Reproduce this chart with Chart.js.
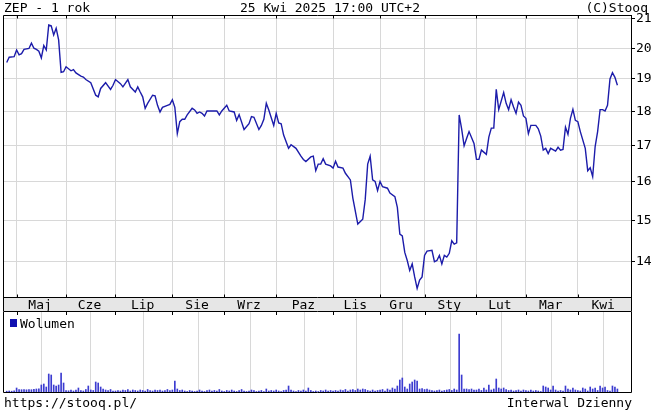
<!DOCTYPE html>
<html>
<head>
<meta charset="utf-8">
<script src="https://cdn.jsdelivr.net/npm/chart.js"></script>
<style>
  body { margin: 0; background: #fff; }
  #wrap { position: relative; width: 654px; height: 412px; overflow: hidden; font: 13px "DejaVu Sans Mono", monospace; color: #000; }
  .t { position: absolute; white-space: nowrap; line-height: 15px; }
  canvas { position: absolute; left: 0; }
</style>
</head>
<body>
<div id="wrap">
  <canvas id="priceChart" width="654" height="312" style="top:0"></canvas>
  <canvas id="volChart" width="654" height="100" style="top:312px"></canvas>
  <div class="t" style="left:4px;top:0">ZEP - 1 rok</div>
  <div class="t" style="left:240px;top:0">25 Kwi 2025 17:00 UTC+2</div>
  <div class="t" style="right:6px;top:0">(C)Stooq</div>
  <div style="position:absolute;left:10px;top:319px;width:7px;height:8px;background:#1010b0"></div>
  <div class="t" style="left:20px;top:316px">Wolumen</div>
  <div class="t" style="left:4px;top:395px">https://stooq.pl/</div>
  <div class="t" style="right:22px;top:395px">Interwal Dzienny</div>
</div>
<script>
// trading day index 0 = 25 Apr 2024, 247 = 25 Apr 2025
const months = ['Maj', 'Cze', 'Lip', 'Sie', 'Wrz', 'Paz', 'Lis', 'Gru', 'Sty', 'Lut', 'Mar', 'Kwi'];
const monthStart = [4, 24, 44, 67, 88, 109, 132, 151, 169, 190, 210, 231];
const priceTicks = [14, 15, 16, 17, 18, 19, 20, 21];

const priceDays = [
  0, 1, 3,
  4, 5, 6, 7, 9, 10, 11, 12, 13, 14, 15, 16, 17, 18, 19, 20, 21, 22, 23,
  24, 26, 27, 28, 30, 31, 32, 34, 36, 37, 38, 40, 42, 43,
  44, 46, 47, 49, 50, 52, 53, 54, 55, 56, 57, 59, 60, 61, 62, 63, 65, 66,
  67, 68, 69, 70, 71, 72, 73, 75, 76, 77, 78, 79, 80, 81, 83, 85, 86, 87,
  89, 90, 92, 93, 94, 96, 98, 99, 100, 102, 103, 104, 105, 106, 108,
  109, 110, 111, 112, 114, 115, 117, 119, 120, 121, 123, 124, 125, 126, 127, 128, 129, 131,
  132, 133, 134, 136, 137, 139, 140, 142, 144, 145, 146, 147, 148, 149, 150,
  151, 152, 154, 155, 157, 158, 159, 160, 161, 162, 163, 164, 165, 166, 167, 168,
  169, 170, 172, 173, 174, 175, 176, 177, 178, 179, 180, 181, 182, 183, 184, 185, 186, 187, 189,
  190, 191, 192, 194, 195, 196, 197, 198, 199, 201, 202, 203, 204, 205, 206, 207, 208, 209,
  210, 211, 212, 214, 215, 216, 217, 218, 219, 220, 222, 223, 224, 225, 226, 227, 228, 229, 230,
  231, 232, 234, 235, 236, 237, 238, 239, 240, 241, 242, 243, 244, 245, 246, 247
];
const priceValues = [
  19.53, 19.70, 19.72,
  19.94, 19.78, 19.82, 19.96, 19.99, 20.17, 20.00, 19.96, 19.90, 19.68, 20.09, 19.94, 20.79, 20.76, 20.45, 20.68, 20.28, 19.21, 19.23,
  19.39, 19.26, 19.30, 19.19, 19.09, 19.06, 18.98, 18.88, 18.49, 18.44, 18.70, 18.88, 18.67, 18.80,
  18.98, 18.85, 18.75, 18.98, 18.75, 18.59, 18.75, 18.59, 18.44, 18.09, 18.24, 18.49, 18.47, 18.18, 17.98, 18.12, 18.18, 18.21,
  18.35, 18.12, 17.34, 17.69, 17.76, 17.76, 17.89, 18.09, 18.04, 17.94, 17.98, 17.94, 17.86, 18.01, 18.01, 18.01, 17.89, 18.01,
  18.18, 18.01, 17.98, 17.73, 17.90, 17.46, 17.63, 17.84, 17.82, 17.46, 17.58, 17.76, 18.24, 18.04, 17.58,
  17.94, 17.65, 17.63, 17.30, 16.92, 17.02, 16.92, 16.70, 16.61, 16.55, 16.68, 16.70, 16.30, 16.48, 16.48, 16.63, 16.48, 16.43,
  16.37, 16.56, 16.40, 16.37, 16.23, 16.05, 15.57, 14.91, 15.03, 15.53, 16.48, 16.70, 16.05, 16.01, 15.77,
  16.01, 15.87, 15.83, 15.70, 15.61, 15.33, 14.66, 14.62, 14.22, 14.03, 13.80, 13.95, 13.65, 13.39, 13.58, 13.65,
  14.15, 14.25, 14.27, 14.00, 14.03, 14.15, 13.95, 14.15, 14.11, 14.20, 14.50, 14.42, 14.45, 17.89, 17.48, 16.99, 17.20, 17.40, 17.06,
  16.61, 16.61, 16.87, 16.75, 17.24, 17.50, 17.50, 18.67, 18.05, 18.57, 18.24, 18.05, 18.35, 18.13, 17.94, 18.28, 18.18, 17.86,
  17.79, 17.34, 17.58, 17.58, 17.48, 17.27, 16.87, 16.92, 16.77, 16.92, 16.84, 16.95, 16.87, 16.89, 17.53, 17.32, 17.79, 18.06, 17.73,
  17.69, 17.40, 16.92, 16.30, 16.38, 16.14, 16.97, 17.40, 18.05, 18.05, 18.01, 18.18, 19.00, 19.20, 19.05, 18.80
];

// daily volume, one value per trading day
const volumes = [
  0.8, 1, 0.8, 1.2,
  4, 2.5, 2.3, 2.4, 2.2, 2.5, 2.3, 2.6, 3, 3.2, 7, 8, 5, 18, 17, 7, 6, 7, 19, 9,
  1.5, 1.2, 2, 1, 2, 4, 1.5, 1, 2.5, 6, 2, 1.5, 10, 9, 5, 3, 2, 1.5, 2.5, 1,
  1, 1.5, 1, 2, 1.5, 2.5, 1, 2, 1.5, 1, 2, 1.5, 1, 2.5, 1.5, 1, 2, 1.5, 2, 1, 1.5, 2.5, 1.5,
  2, 11, 3, 1.5, 2, 1, 0.5, 1.5, 1, 0.5, 1, 2, 1, 0.5, 1.5, 2, 1, 1.5, 1, 2.5, 1,
  0.5, 1.5, 1, 2, 1, 0.5, 1.5, 2.5, 1, 0.5, 1, 2, 1.5, 0.5, 1, 1.5, 0.5, 3, 1, 1.5, 1,
  2, 1, 0.5, 1.5, 2, 6, 2, 1, 0.5, 1.5, 1, 2, 1, 4, 1.5, 0.5, 1, 0.5, 1.5, 1, 2, 1, 1.5,
  1, 1.5, 1, 2, 1.5, 2.5, 1, 2, 2.5, 1.5, 3, 2, 3, 2.5, 1.5, 1, 2, 1, 1.5,
  2, 2.5, 1, 3, 2, 4, 3, 6, 12, 14, 5, 3, 8, 10, 12, 11, 3, 3.5,
  2.5, 3, 2, 1.5, 1, 1.5, 2, 1, 1.5, 2, 2.5, 1.5, 3, 2, 58, 17, 3, 3, 2.5, 3, 2,
  2, 3, 1.5, 4, 2, 7, 2, 3, 13, 4, 3, 4, 2.5, 1.5, 2, 1, 1.5, 2, 1, 2,
  1.5, 1, 2, 1, 1.5, 1, 0.5, 6, 5, 4, 2, 6, 2, 1, 1.5, 1, 6, 3, 2, 4, 2,
  1.5, 1, 4, 3, 1, 5, 3, 4, 1.5, 6, 4, 5, 1.5, 1, 6, 5, 3
];

const xMin = -1.5, xMax = 252.5;
const labelAt = months.map((m, k) => ((k < months.length - 1 ? monthStart[k + 1] : xMax) + monthStart[k]) / 2 - 0.5);
const mono = { family: 'DejaVu Sans Mono', size: 13 };
const gridGray = '#d8d8d8';

const priceFrame = {
  id: 'priceFrame',
  beforeDraw(chart) {
    const { ctx, chartArea: a } = chart;
    ctx.save();
    ctx.fillStyle = '#e6e6e6';
    ctx.fillRect(a.left, a.bottom, a.right - a.left, 14);
    ctx.restore();
  },
  afterDraw(chart) {
    const { ctx, chartArea: a, scales } = chart;
    const L = Math.round(a.left) + 0.5, R = Math.round(a.right) + 0.5;
    const T = Math.round(a.top) + 0.5, B = Math.round(a.bottom) + 0.5, S = B + 14;
    ctx.save();
    ctx.strokeStyle = '#000';
    ctx.lineWidth = 1;
    ctx.beginPath();
    ctx.moveTo(L, S); ctx.lineTo(L, T); ctx.lineTo(R, T);
    ctx.moveTo(L, B); ctx.lineTo(R, B);
    ctx.moveTo(L, S); ctx.lineTo(R, S);
    ctx.moveTo(R, B); ctx.lineTo(R, S);
    monthStart.forEach(d => {
      const x = Math.round(scales.x.getPixelForValue(d)) + 0.5;
      ctx.moveTo(x, T); ctx.lineTo(x, T + 3);
      ctx.moveTo(x, B - 3); ctx.lineTo(x, B);
    });
    ctx.stroke();
    ctx.restore();
  }
};

new Chart(document.getElementById('priceChart'), {
  type: 'line',
  data: {
    datasets: [{
      data: priceDays.map((d, i) => ({ x: d, y: priceValues[i] })),
      borderColor: '#1c1caa',
      borderWidth: 1.4,
      pointRadius: 0,
      tension: 0
    }]
  },
  options: {
    responsive: false,
    animation: false,
    layout: { padding: { left: 3, top: 15, right: 0, bottom: 0 } },
    plugins: { legend: { display: false }, tooltip: { enabled: false } },
    scales: {
      x: {
        type: 'linear', min: xMin, max: xMax,
        afterBuildTicks: s => { s.ticks = monthStart.concat(labelAt).sort((a, b) => a - b).map(v => ({ value: v })); },
        afterFit: s => { s.height = 15; },
        grid: { color: c => (c.tick && monthStart.includes(c.tick.value)) ? gridGray : 'rgba(0,0,0,0)', drawTicks: false },
        border: { display: false },
        ticks: {
          autoSkip: false, maxRotation: 0, padding: 1, font: mono, color: '#000',
          callback: v => { const k = labelAt.indexOf(v); return k >= 0 ? months[k] : ''; }
        }
      },
      y: {
        type: 'logarithmic', position: 'right', min: 13.2, max: 21.14,
        afterBuildTicks: s => { s.ticks = priceTicks.map(v => ({ value: v })); },
        afterFit: s => { s.width = 23; },
        grid: { color: gridGray, tickColor: '#000', tickLength: 4 },
        border: { color: '#000' },
        ticks: { padding: 1, font: mono, color: '#000', callback: v => String(v) }
      }
    }
  },
  plugins: [priceFrame]
});

const volFrame = {
  id: 'volFrame',
  afterDraw(chart) {
    const { ctx, chartArea: a, scales } = chart;
    const L = Math.round(a.left) + 0.5, R = Math.round(a.right) + 0.5, B = Math.round(a.bottom) + 0.5;
    ctx.save();
    ctx.strokeStyle = '#000';
    ctx.lineWidth = 1;
    ctx.beginPath();
    ctx.moveTo(L, a.top); ctx.lineTo(L, B); ctx.lineTo(R, B); ctx.lineTo(R, a.top);
    monthStart.forEach(d => {
      const x = Math.round(scales.x.getPixelForValue(d)) + 0.5;
      ctx.moveTo(x, a.top); ctx.lineTo(x, a.top + 3);
    });
    ctx.stroke();
    ctx.restore();
  }
};

new Chart(document.getElementById('volChart'), {
  type: 'bar',
  data: {
    datasets: [{
      data: volumes.map((v, i) => ({ x: i, y: v })),
      backgroundColor: '#3c3cd0',
      barThickness: 1
    }]
  },
  options: {
    responsive: false,
    animation: false,
    layout: { padding: { left: 3, top: 0, right: 23, bottom: 20 } },
    plugins: { legend: { display: false }, tooltip: { enabled: false } },
    scales: {
      x: {
        type: 'linear', min: xMin, max: xMax, offset: false,
        afterBuildTicks: s => { s.ticks = monthStart.map(v => ({ value: v })); },
        afterFit: s => { s.height = 0; },
        grid: { color: gridGray, drawTicks: false },
        border: { display: false },
        ticks: { display: false }
      },
      y: { display: false, min: 0, max: 80 }
    }
  },
  plugins: [volFrame]
});
</script>
</body>
</html>
